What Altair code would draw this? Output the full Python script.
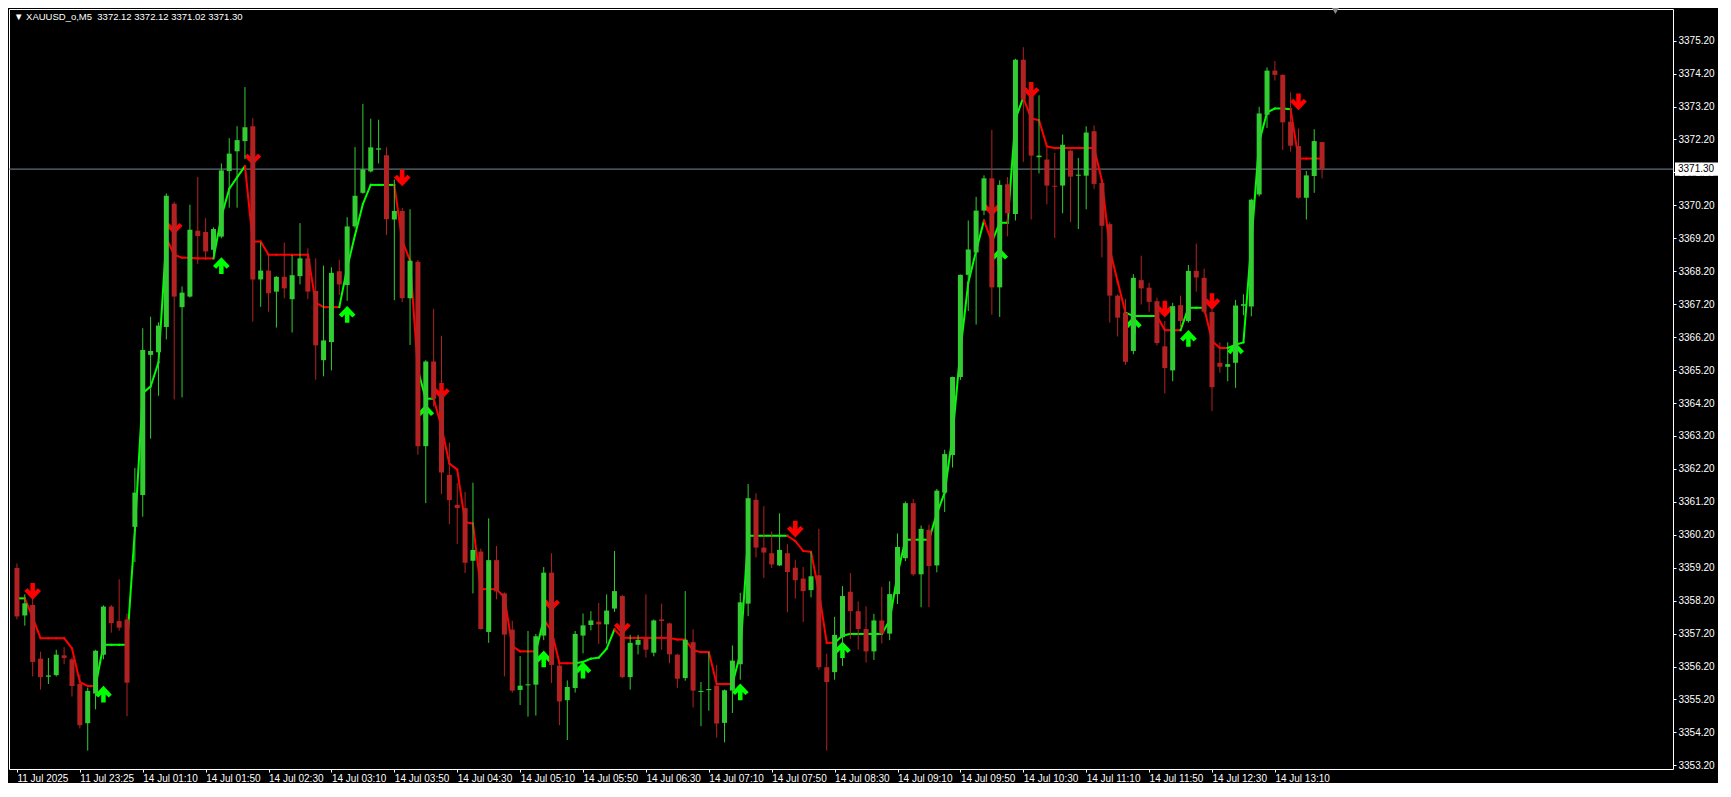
import altair as alt
import pandas as pd

# ---------------- data ----------------
opens = [
    3359.19, 3357.75, 3358.07, 3356.44, 3355.89, 3355.94, 3356.54, 3356.42, 3355.67, 3354.48,
    3355.38, 3356.56, 3358.02, 3357.58, 3357.63, 3360.44, 3361.41, 3365.66, 3365.74, 3366.51,
    3370.25, 3367.11, 3367.43, 3369.43, 3369.39, 3368.85, 3369.25, 3371.24, 3371.84, 3372.15,
    3372.60, 3367.95, 3368.22, 3367.58, 3368.03, 3367.35, 3368.05, 3368.59, 3367.60, 3365.50,
    3366.05, 3368.20, 3367.78, 3369.56, 3370.58, 3371.23, 3371.89, 3371.72, 3369.77, 3370.03,
    3367.38, 3368.49, 3362.89, 3365.46, 3364.48, 3362.02, 3361.11, 3361.01, 3359.41, 3359.69,
    3357.25, 3359.43, 3358.42, 3357.32, 3355.49, 3355.63, 3355.65, 3357.14, 3359.05, 3356.23,
    3355.18, 3355.55, 3357.14, 3357.46, 3357.56, 3357.48, 3357.96, 3358.34, 3355.88, 3356.86,
    3357.06, 3356.62, 3357.63, 3357.51, 3356.56, 3355.85, 3356.94, 3355.43, 3355.49, 3355.62,
    3354.49, 3355.47, 3356.27, 3358.11, 3361.26, 3359.81, 3359.64, 3359.27, 3359.64, 3359.20,
    3358.87, 3358.52, 3358.97, 3356.18, 3356.03, 3357.09, 3358.47, 3357.88, 3357.34, 3356.66,
    3357.60, 3357.20, 3358.40, 3359.49, 3361.16, 3359.00, 3360.35, 3359.27, 3361.48, 3362.62,
    3364.99, 3368.09, 3368.77, 3370.04, 3371.02, 3367.71, 3370.84, 3369.94, 3374.62, 3373.52,
    3371.66, 3371.59, 3370.79, 3370.80, 3371.86, 3371.10, 3371.10, 3372.45, 3370.88, 3369.63,
    3367.46, 3366.94, 3365.78, 3367.93, 3367.70, 3367.29, 3365.92, 3365.19, 3367.17, 3366.69,
    3368.21, 3368.00, 3366.96, 3365.42, 3365.30, 3365.42, 3367.15, 3367.13, 3370.53, 3372.95,
    3374.29, 3374.16, 3372.74, 3372.00, 3370.43, 3371.09, 3372.12]

highs = [
    3359.33, 3358.39, 3358.27, 3356.65, 3356.46, 3356.71, 3356.79, 3356.48, 3355.96, 3355.56,
    3356.71, 3358.06, 3358.07, 3358.85, 3357.81, 3362.23, 3366.47, 3366.82, 3366.65, 3370.56,
    3370.31, 3367.74, 3370.22, 3371.06, 3369.81, 3369.53, 3371.47, 3372.24, 3372.60, 3373.79,
    3372.85, 3369.07, 3368.72, 3368.05, 3369.07, 3368.69, 3369.66, 3368.89, 3368.59, 3368.37,
    3368.32, 3368.55, 3369.84, 3371.97, 3373.28, 3372.83, 3372.80, 3371.96, 3370.98, 3370.12,
    3370.08, 3368.54, 3365.50, 3367.06, 3366.24, 3363.00, 3361.77, 3361.50, 3361.78, 3359.78,
    3360.70, 3359.86, 3358.45, 3357.59, 3356.52, 3357.28, 3357.19, 3359.22, 3359.64, 3356.30,
    3355.78, 3357.28, 3357.81, 3357.88, 3358.13, 3358.39, 3359.71, 3358.37, 3357.16, 3357.16,
    3358.39, 3357.63, 3358.11, 3357.53, 3356.59, 3358.49, 3357.33, 3355.73, 3356.64, 3356.25,
    3355.50, 3356.84, 3358.44, 3361.74, 3361.46, 3361.07, 3360.30, 3360.85, 3359.91, 3359.44,
    3359.22, 3359.69, 3360.38, 3356.59, 3357.71, 3358.64, 3359.04, 3358.18, 3358.03, 3357.80,
    3358.62, 3358.79, 3360.24, 3361.21, 3361.29, 3360.48, 3360.51, 3361.59, 3362.78, 3365.00,
    3368.10, 3369.74, 3370.46, 3371.11, 3372.49, 3370.96, 3371.06, 3374.65, 3375.00, 3373.92,
    3373.54, 3371.94, 3371.79, 3372.35, 3371.89, 3371.64, 3372.60, 3372.63, 3370.90, 3369.69,
    3367.50, 3367.36, 3368.11, 3368.67, 3367.85, 3367.40, 3366.69, 3367.24, 3367.46, 3368.39,
    3369.04, 3368.28, 3367.03, 3366.04, 3366.04, 3367.33, 3367.50, 3370.40, 3373.19, 3374.39,
    3374.58, 3374.18, 3373.63, 3372.53, 3371.24, 3372.51, 3372.12]

lows = [
    3357.63, 3357.44, 3355.90, 3355.50, 3355.67, 3355.90, 3356.27, 3355.29, 3354.32, 3353.65,
    3354.90, 3356.42, 3357.23, 3357.29, 3354.69, 3359.37, 3360.75, 3363.12, 3364.42, 3366.13,
    3364.31, 3364.37, 3367.40, 3368.42, 3368.55, 3368.57, 3369.20, 3370.13, 3370.13, 3371.60,
    3366.67, 3367.12, 3366.97, 3366.49, 3367.38, 3366.34, 3367.80, 3367.36, 3364.91, 3365.01,
    3365.19, 3367.48, 3367.30, 3369.50, 3370.55, 3371.20, 3371.47, 3369.30, 3367.32, 3367.26,
    3365.96, 3362.63, 3361.16, 3364.09, 3361.44, 3360.52, 3359.92, 3359.04, 3358.42, 3357.32,
    3356.92, 3358.24, 3355.90, 3355.41, 3355.03, 3354.68, 3354.71, 3357.00, 3355.70, 3354.42,
    3353.97, 3355.41, 3356.60, 3357.30, 3356.89, 3356.89, 3357.86, 3355.85, 3355.50, 3356.57,
    3356.47, 3356.51, 3356.71, 3356.30, 3355.55, 3355.77, 3354.96, 3354.39, 3354.86, 3354.04,
    3353.90, 3354.79, 3355.80, 3357.73, 3359.51, 3358.89, 3359.19, 3359.25, 3357.85, 3358.26,
    3357.55, 3358.30, 3356.10, 3353.65, 3355.80, 3356.22, 3357.04, 3356.71, 3356.32, 3356.40,
    3356.90, 3357.00, 3358.10, 3359.40, 3358.95, 3358.00, 3358.00, 3359.06, 3360.89, 3362.24,
    3364.90, 3366.99, 3366.58, 3369.90, 3366.88, 3366.81, 3369.26, 3369.74, 3371.52, 3369.77,
    3371.17, 3370.23, 3369.21, 3369.96, 3369.69, 3369.48, 3370.08, 3370.70, 3368.62, 3366.64,
    3366.22, 3365.36, 3365.68, 3367.19, 3366.97, 3365.95, 3364.49, 3364.86, 3366.47, 3366.64,
    3367.58, 3366.90, 3363.96, 3365.12, 3364.86, 3364.66, 3366.86, 3366.83, 3370.47, 3372.55,
    3373.99, 3371.88, 3371.83, 3370.40, 3369.77, 3370.58, 3371.02]

closes = [
    3357.72, 3358.12, 3356.34, 3355.88, 3355.93, 3356.56, 3356.46, 3355.61, 3354.42, 3355.46,
    3356.68, 3358.02, 3357.52, 3357.38, 3355.71, 3361.48, 3365.81, 3365.78, 3366.55, 3370.49,
    3367.43, 3367.55, 3369.46, 3369.27, 3368.80, 3369.48, 3371.26, 3371.77, 3372.18, 3372.57,
    3367.95, 3368.22, 3367.53, 3368.03, 3367.68, 3368.08, 3368.59, 3367.58, 3365.95, 3366.10,
    3368.15, 3367.80, 3369.56, 3370.49, 3371.29, 3371.96, 3371.93, 3369.78, 3370.03, 3367.38,
    3368.52, 3362.89, 3365.46, 3364.33, 3362.09, 3361.25, 3361.01, 3359.35, 3359.74, 3357.34,
    3359.43, 3358.48, 3357.17, 3355.47, 3355.62, 3355.66, 3357.12, 3359.05, 3356.25, 3355.14,
    3355.58, 3357.19, 3357.45, 3357.60, 3357.48, 3357.90, 3358.49, 3355.88, 3356.92, 3357.01,
    3356.71, 3357.60, 3357.58, 3356.57, 3355.83, 3357.01, 3355.47, 3355.46, 3355.51, 3354.47,
    3355.48, 3356.38, 3358.15, 3361.31, 3359.81, 3359.66, 3359.30, 3359.74, 3359.07, 3358.82,
    3358.49, 3358.94, 3356.18, 3355.73, 3357.16, 3358.34, 3357.88, 3357.34, 3356.66, 3357.60,
    3357.20, 3358.40, 3359.83, 3361.16, 3359.00, 3360.38, 3359.25, 3361.54, 3362.65, 3364.99,
    3368.09, 3368.86, 3370.04, 3371.02, 3367.71, 3370.82, 3369.96, 3374.62, 3373.41, 3371.71,
    3371.71, 3370.80, 3370.77, 3372.04, 3371.07, 3371.13, 3372.41, 3370.85, 3369.58, 3367.46,
    3366.79, 3365.45, 3368.00, 3367.68, 3367.27, 3366.02, 3365.26, 3367.14, 3366.69, 3368.21,
    3368.01, 3366.97, 3364.68, 3365.30, 3365.38, 3367.16, 3367.20, 3370.37, 3372.99, 3374.29,
    3374.16, 3372.72, 3372.01, 3370.43, 3371.11, 3372.15, 3371.30]

# trend-line indicator value per candle
line_vals = [
    3358.27, 3358.27, 3357.69, 3357.06, 3357.06, 3357.06, 3357.06, 3356.75, 3355.73, 3355.61,
    3355.61, 3356.86, 3356.86, 3356.86, 3356.86, 3360.35, 3364.50, 3364.70, 3365.43, 3369.20,
    3368.70, 3368.61, 3368.61, 3368.59, 3368.59, 3368.59, 3369.86, 3370.70, 3371.05, 3371.39,
    3369.10, 3369.10, 3368.70, 3368.70, 3368.70, 3368.70, 3368.70, 3368.70, 3367.25, 3367.11,
    3367.11, 3367.11, 3368.30, 3369.30, 3370.24, 3370.82, 3370.82, 3370.82, 3370.82, 3369.13,
    3368.52, 3365.19, 3364.33, 3364.33, 3363.47, 3362.36, 3362.18, 3360.58, 3360.54, 3358.55,
    3358.55, 3358.55, 3358.30, 3356.82, 3356.66, 3356.66, 3356.66, 3357.63, 3357.28, 3356.30,
    3356.30, 3356.30, 3356.34, 3356.44, 3356.47, 3356.74, 3357.33, 3357.07, 3357.07, 3357.07,
    3357.07, 3357.07, 3357.07, 3357.07, 3357.02, 3357.02, 3356.69, 3356.64, 3356.64, 3355.67,
    3355.67, 3355.67, 3356.59, 3360.17, 3360.17, 3360.17, 3360.17, 3360.17, 3360.17, 3360.01,
    3359.71, 3359.68, 3358.47, 3356.92, 3356.92, 3357.14, 3357.19, 3357.19, 3357.19, 3357.19,
    3357.19, 3357.60, 3359.00, 3360.05, 3360.05, 3360.05, 3360.05, 3360.84, 3361.48, 3363.21,
    3365.80, 3367.85, 3368.82, 3369.74, 3369.09, 3369.67, 3369.67, 3372.82, 3373.47, 3372.84,
    3372.78, 3371.99, 3371.94, 3371.94, 3371.94, 3371.94, 3371.94, 3371.94, 3370.95, 3368.87,
    3367.88, 3366.94, 3366.84, 3366.84, 3366.84, 3366.84, 3366.41, 3366.41, 3366.41, 3367.09,
    3367.09, 3367.09, 3366.09, 3365.87, 3365.87, 3365.97, 3366.04, 3369.06, 3372.13, 3373.02,
    3373.14, 3373.14, 3373.12, 3371.62, 3371.62, 3371.62, 3371.62]

# trend state per candle (U = up / green, D = down / red)
trend = list(
    "UU" "DDDDDDDDD" "UUUUUUUUU" "DDDDDD" "UUUU" "DDDDDDDDDDDD" "UUUUUUU" "DDD" "UU"
    "DDDDDDDDDDDDD" "U" "DDDD" "UUUUU" "DDDDDDDDDDDDDDD" "UUUUUUU" "DDDDDD"
    "UUUUUUUUUUUUUUUUUUU" "D" "UUUU" "DDDDDDDDDDDDD" "UUUU" "DDD" "UUU" "DDD" "UUUUUUUU" "DDDD")

up_arrow_idx = [11, 26, 42, 52, 67, 72, 92, 105, 125, 142, 149, 155]
up_arrow_price = [3355.36, 3368.37, 3366.89, 3363.90, 3356.43, 3356.09, 3355.43, 3356.71,
                  3368.65, 3366.57, 3366.16, 3365.78]
down_arrow_idx = [2, 20, 30, 49, 54, 68, 77, 99, 124, 129, 146, 152, 163]
down_arrow_price = [3358.48, 3369.57, 3371.67, 3371.03, 3364.55, 3358.13, 3357.43, 3360.37,
                    3370.12, 3373.69, 3367.05, 3367.28, 3373.34]

tick_labels = ["11 Jul 2025", "11 Jul 23:25", "14 Jul 01:10", "14 Jul 01:50", "14 Jul 02:30",
               "14 Jul 03:10", "14 Jul 03:50", "14 Jul 04:30", "14 Jul 05:10", "14 Jul 05:50",
               "14 Jul 06:30", "14 Jul 07:10", "14 Jul 07:50", "14 Jul 08:30", "14 Jul 09:10",
               "14 Jul 09:50", "14 Jul 10:30", "14 Jul 11:10", "14 Jul 11:50", "14 Jul 12:30",
               "14 Jul 13:10"]
price_ticks = [3353.20, 3354.20, 3355.20, 3356.20, 3357.20, 3358.20, 3359.20, 3360.20,
               3361.20, 3362.20, 3363.20, 3364.20, 3365.20, 3366.20, 3367.20, 3368.20,
               3369.20, 3370.20, 3371.20, 3372.20, 3373.20, 3374.20, 3375.20]
current_price = 3371.30
header = "\u25BC XAUUSD_o,M5\u00a0\u00a03372.12 3372.12 3371.02 3371.30"
shift_marker = [167.7]

# ---------------- layout / style ----------------
W, H = 1664, 760
XMIN, XMAX = -0.375, 210.0
YMIN, YMAX = 3353.09, 3376.16
FONT = "Liberation Sans"

n = len(opens)
assert len(trend) == n == len(line_vals) == len(highs) == len(lows) == len(closes)

cdf = pd.DataFrame({"i": list(range(n)), "o": opens, "h": highs, "l": lows, "c": closes})
cdf["dir"] = ["bull" if c >= o else "bear" for o, c in zip(opens, closes)]
mid = (cdf["o"] + cdf["c"]) / 2
half = ((cdf["o"] - cdf["c"]).abs() / 2).clip(lower=0.016)
cdf["blo"] = mid - half
cdf["bhi"] = mid + half

sdf = pd.DataFrame({"x": list(range(n - 1)), "x2": list(range(1, n)),
                    "y": line_vals[:-1], "y2": line_vals[1:], "dir": trend[1:]})
updf = pd.DataFrame({"i": up_arrow_idx, "p": up_arrow_price})
dndf = pd.DataFrame({"i": down_arrow_idx, "p": down_arrow_price})
cpdf = pd.DataFrame({"p": [current_price], "lbl": ["%.2f" % current_price]})
one = pd.DataFrame({"a": [0]})
shdf = pd.DataFrame({"s": shift_marker})

xs = alt.Scale(domain=[XMIN, XMAX], nice=False, zero=False)
ys = alt.Scale(domain=[YMIN, YMAX], nice=False, zero=False)
cs = alt.Scale(domain=["bull", "bear", "U", "D"],
               range=["#32CD32", "#B22222", "#00FF00", "#FF0000"])

labels_js = "[" + ",".join("'%s'" % s for s in tick_labels) + "]"
x_axis = alt.Axis(values=[8 * k for k in range(len(tick_labels))],
                  labelExpr=labels_js + "[round(datum.value / 8)]",
                  labelAlign="left", labelBaseline="top", labelPadding=1, labelFlush=False,
                  labelOverlap=False, title=None, tickSize=3, orient="bottom")
y_axis = alt.Axis(values=price_ticks, format=".2f", orient="right", title=None,
                  tickSize=3, labelPadding=2, labelOverlap=False, labelFlush=False)


def X(f):
    return alt.X(f, type="quantitative", scale=xs, axis=x_axis, title=None)


def Y(f):
    return alt.Y(f, type="quantitative", scale=ys, axis=y_axis, title=None)


COL = alt.Color("dir:N", scale=cs, legend=None)

price_line = alt.Chart(cpdf).mark_rule(color="#778899", strokeWidth=1).encode(y=Y("p"))

segs = alt.Chart(sdf).mark_rule(strokeWidth=2, strokeCap="square").encode(
    x=X("x"), x2="x2", y=Y("y"), y2="y2", color=COL)

UP = "M0,-1L1,0.05L0.62,0.38L0.27,0.02L0.27,1L-0.27,1L-0.27,0.02L-0.62,0.38L-1,0.05Z"
DN = "M0,1L1,-0.05L0.62,-0.38L0.27,-0.02L0.27,-1L-0.27,-1L-0.27,-0.02L-0.62,-0.38L-1,-0.05Z"
up_ar = alt.Chart(updf).mark_point(shape=UP, filled=True, size=280, opacity=1,
                                   color="#00FF00").encode(x=X("i"), y=Y("p"))
dn_ar = alt.Chart(dndf).mark_point(shape=DN, filled=True, size=280, opacity=1,
                                   color="#FF0000").encode(x=X("i"), y=Y("p"))

wicks = alt.Chart(cdf).mark_rule(strokeWidth=1).encode(
    x=X("i"), y=Y("l"), y2="h", color=COL)
bodies = alt.Chart(cdf).mark_bar(size=5, opacity=1).encode(
    x=X("i"), y=Y("blo"), y2="bhi", color=COL)

box = alt.Chart(cpdf).transform_calculate(
    top="datum.p + 0.2", bot="datum.p - 0.2").mark_rect(color="white").encode(
    x=alt.value(W + 2), x2=alt.value(W + 45), y=Y("top:Q"), y2="bot:Q")
box_txt = alt.Chart(cpdf).mark_text(align="left", baseline="middle", color="black",
                                    font=FONT, fontSize=10).encode(
    x=alt.value(W + 5), y=Y("p"), text="lbl:N")

head = alt.Chart(one).mark_text(align="left", baseline="middle", color="white",
                                font=FONT, fontSize=9.5).encode(
    x=alt.value(5), y=alt.value(8), text=alt.value(header))

shift = alt.Chart(shdf).mark_point(shape="triangle-down", filled=True, size=45,
                                   color="#8A8A8A", opacity=1).encode(
    x=X("s"), y=alt.value(2))

chart = alt.layer(price_line, segs, up_ar, dn_ar, wicks, bodies, box, box_txt, head, shift
                  ).properties(width=W, height=H,
                               padding={"left": 0, "top": 0, "right": 0, "bottom": 0}
                  ).configure(background="#000000"
                  ).configure_view(stroke="#FFFFFF", strokeWidth=1, fill="#000000"
                  ).configure_axis(labelColor="white", tickColor="white", labelFont=FONT,
                                   labelFontSize=10, domain=False, grid=False)

chart.save("out.html", embed_options={"renderer": "svg", "actions": False})
